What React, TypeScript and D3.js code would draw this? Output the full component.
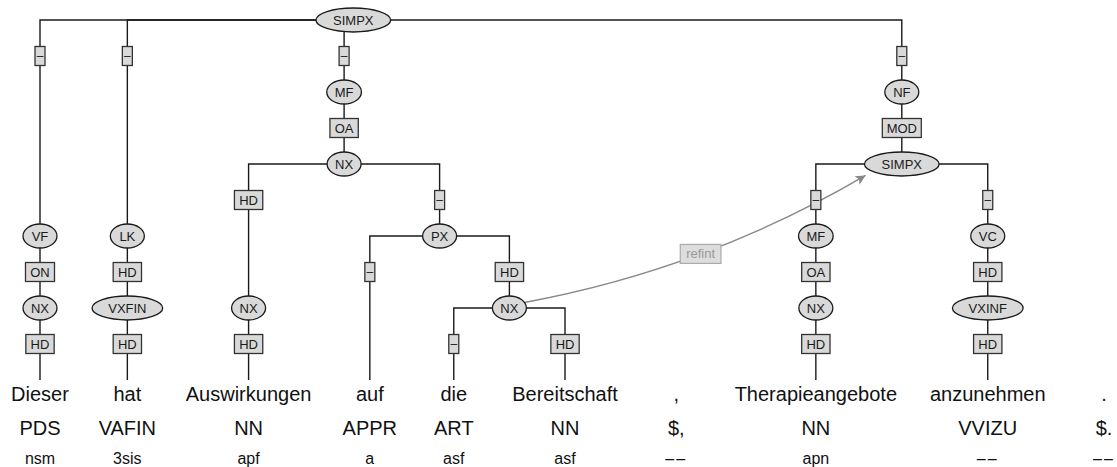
import * as d3 from 'd3';
import { useMemo } from 'react';

const W = 1117;
const H = 467;
const FONT = "'Liberation Sans', Arial, Helvetica, sans-serif";

// token rows
const words = ['Dieser', 'hat', 'Auswirkungen', 'auf', 'die', 'Bereitschaft', ',', 'Therapieangebote', 'anzunehmen', '.'];
const posTags = ['PDS', 'VAFIN', 'NN', 'APPR', 'ART', 'NN', '$,', 'NN', 'VVIZU', '$.'];
const morph = ['nsm', '3sis', 'apf', 'a', 'asf', 'asf', '––', 'apn', '––', '––'];

// phrase nodes
const phraseIds = ['n0', 'n1', 'n2', 'n3', 'n4', 'n5', 'n6', 'n7', 'n8', 'n9', 'n10', 'n11', 'n12', 'n13', 'n14', 'n15'];
const phraseLabels = ['SIMPX', 'VF', 'NX', 'LK', 'VXFIN', 'MF', 'NX', 'NX', 'PX', 'NX', 'NF', 'SIMPX', 'MF', 'NX', 'VC', 'VXINF'];

// [child, parent, edge label]; t<i> = token i
const edges: [string, string, string][] = [
  ['n1', 'n0', '–'], ['n2', 'n1', 'ON'], ['t0', 'n2', 'HD'],
  ['n3', 'n0', '–'], ['n4', 'n3', 'HD'], ['t1', 'n4', 'HD'],
  ['n5', 'n0', '–'], ['n6', 'n5', 'OA'],
  ['n7', 'n6', 'HD'], ['t2', 'n7', 'HD'],
  ['n8', 'n6', '–'], ['t3', 'n8', '–'],
  ['n9', 'n8', 'HD'], ['t4', 'n9', '–'], ['t5', 'n9', 'HD'],
  ['n10', 'n0', '–'], ['n11', 'n10', 'MOD'],
  ['n12', 'n11', '–'], ['n13', 'n12', 'OA'], ['t7', 'n13', 'HD'],
  ['n14', 'n11', '–'], ['n15', 'n14', 'HD'], ['t8', 'n15', 'HD'],
];

// secondary edge
const secondary = { from: 'n9', to: 'n11', label: 'refint' };

let ctx: CanvasRenderingContext2D | null = null;
const textWidth = (s: string, size: number) => {
  if (!ctx) ctx = document.createElement('canvas').getContext('2d');
  ctx!.font = `${size}px ${FONT}`;
  return ctx!.measureText(s).width;
};

const LABEL_SIZE = 13;

export default function App() {
  const layout = useMemo(() => {
    // token columns: word width plus padding, with a minimum
    const colW = words.map((w) => Math.max(84, textWidth(w, 20) + 33));
    const centers: number[] = [];
    let acc = 0;
    colW.forEach((w) => {
      centers.push(acc + w / 2);
      acc += w;
    });
    const xScale = d3
      .scaleLinear()
      .domain([centers[0], centers[centers.length - 1]])
      .range([40, 1104]);
    const tokenX = centers.map((c) => xScale(c));

    const rows = [
      { id: 'n0', parentId: '' },
      ...edges.map(([c, p]) => ({ id: c, parentId: p })),
    ];
    const root = d3
      .stratify<{ id: string; parentId: string }>()
      .id((d) => d.id)
      .parentId((d) => d.parentId || null)(rows);

    const edgeLabel = new Map(edges.map(([c, , l]) => [c, l]));
    root.eachAfter((d: any) => {
      if (!d.children) {
        d.row = 5;
        d.x = tokenX[+d.id.slice(1)];
      } else {
        d.row = d3.min(d.children, (c: any) => c.row) - 1;
        d.x = d3.mean(d.children, (c: any) => c.x);
      }
    });
    const yScale = d3.scaleLinear().domain([0, 5]).range([20, 380]);
    root.each((d: any) => {
      d.y = yScale(d.row);
      d.label = d.children ? phraseLabels[phraseIds.indexOf(d.id)] : null;
      d.edge = edgeLabel.get(d.id);
    });
    return { root, tokenX, yScale };
  }, []);

  const { root, tokenX, yScale } = layout;
  const all = root.descendants() as any[];
  const inner = all.filter((d) => d.children);
  const nonRoot = all.filter((d) => d.parent);
  const boxOffset = (yScale(1) - yScale(0)) / 2;

  // secondary edge geometry
  const src = all.find((d) => d.id === secondary.from);
  const dst = all.find((d) => d.id === secondary.to);
  const rxOf = (d: any) => Math.max(17, textWidth(d.label, 12));
  const ry = 12;
  const dx = dst.x - src.x;
  const dy = dst.y - src.y;
  const t0 = 1 / Math.hypot(dx / rxOf(src), dy / ry);
  const p0 = [src.x + dx * t0, src.y + dy * t0];
  const p2 = [dst.x - rxOf(dst) * 0.97, dst.y + ry * 0.95];
  const chord = [p2[0] - p0[0], p2[1] - p0[1]];
  const len = Math.hypot(chord[0], chord[1]);
  const perp = [-chord[1] / len, chord[0] / len];
  const mid = [(p0[0] + p2[0]) / 2, (p0[1] + p2[1]) / 2];
  const c1 = [mid[0] + perp[0] * 32, mid[1] + perp[1] * 32];
  const lab = [0.25 * p0[0] + 0.5 * c1[0] + 0.25 * p2[0], 0.25 * p0[1] + 0.5 * c1[1] + 0.25 * p2[1]];
  const secPath = d3.path();
  secPath.moveTo(p0[0], p0[1]);
  secPath.quadraticCurveTo(c1[0], c1[1], p2[0], p2[1]);
  const refW = textWidth(secondary.label, 12) + 14;

  return (
    <svg
      width={W}
      height={H}
      style={{ position: 'absolute', left: 0, top: 0, display: 'block', background: '#fff' }}
      fontFamily={FONT}
    >
      <defs>
        <marker
          id="arr"
          viewBox="0 0 10 10"
          refX={10}
          refY={5}
          markerWidth={13}
          markerHeight={10}
          markerUnits="userSpaceOnUse"
          orient="auto"
        >
          <path d="M0,0L10,5L0,10L2.5,5z" fill="#888" />
        </marker>
      </defs>

      <g fill="none" stroke="#1a1a1a" strokeWidth={1.4}>
        {nonRoot.map((d) => (
          <path key={d.id} d={`M${d.parent.x},${d.parent.y}H${d.x}V${d.y}`} />
        ))}
      </g>

      <path d={secPath.toString()} fill="none" stroke="#888" strokeWidth={1.4} markerEnd="url(#arr)" />
      <g transform={`translate(${lab[0]},${lab[1]})`}>
        <rect x={-refW / 2} y={-9.5} width={refW} height={19} fill="#ddd" stroke="#aaa" strokeWidth={1.2} />
        <text textAnchor="middle" dominantBaseline="central" fontSize={LABEL_SIZE} fill="#999">
          {secondary.label}
        </text>
      </g>

      <g>
        {nonRoot.map((d) => {
          const w = d.edge === '–' ? 10 : textWidth(d.edge, 12) + 11;
          return (
            <g key={d.id} transform={`translate(${d.x},${d.parent.y + boxOffset})`}>
              <rect x={-w / 2} y={-9.5} width={w} height={19} fill="#d9d9d9" stroke="#333" strokeWidth={1.3} />
              <text
                textAnchor="middle"
                dominantBaseline="central"
                fontSize={d.edge === '–' ? 12 : LABEL_SIZE}
                fill="#1a1a1a"
              >
                {d.edge}
              </text>
            </g>
          );
        })}
      </g>

      <g>
        {inner.map((d) => (
          <g key={d.id} transform={`translate(${d.x},${d.y})`}>
            <ellipse rx={rxOf(d)} ry={ry} fill="#d9d9d9" stroke="#1a1a1a" strokeWidth={1.3} />
            <text textAnchor="middle" dominantBaseline="central" fontSize={LABEL_SIZE} fill="#1a1a1a">
              {d.label}
            </text>
          </g>
        ))}
      </g>

      <g textAnchor="middle" fill="#111">
        {words.map((w, i) => (
          <text key={`w${i}`} x={tokenX[i]} y={401} fontSize={20}>
            {w}
          </text>
        ))}
        {posTags.map((p, i) => (
          <text key={`p${i}`} x={tokenX[i]} y={435} fontSize={20}>
            {p}
          </text>
        ))}
        {morph.map((m, i) => (
          <text key={`m${i}`} x={tokenX[i]} y={464} fontSize={16} letterSpacing={m === '––' ? 2 : 0}>
            {m}
          </text>
        ))}
      </g>
    </svg>
  );
}
